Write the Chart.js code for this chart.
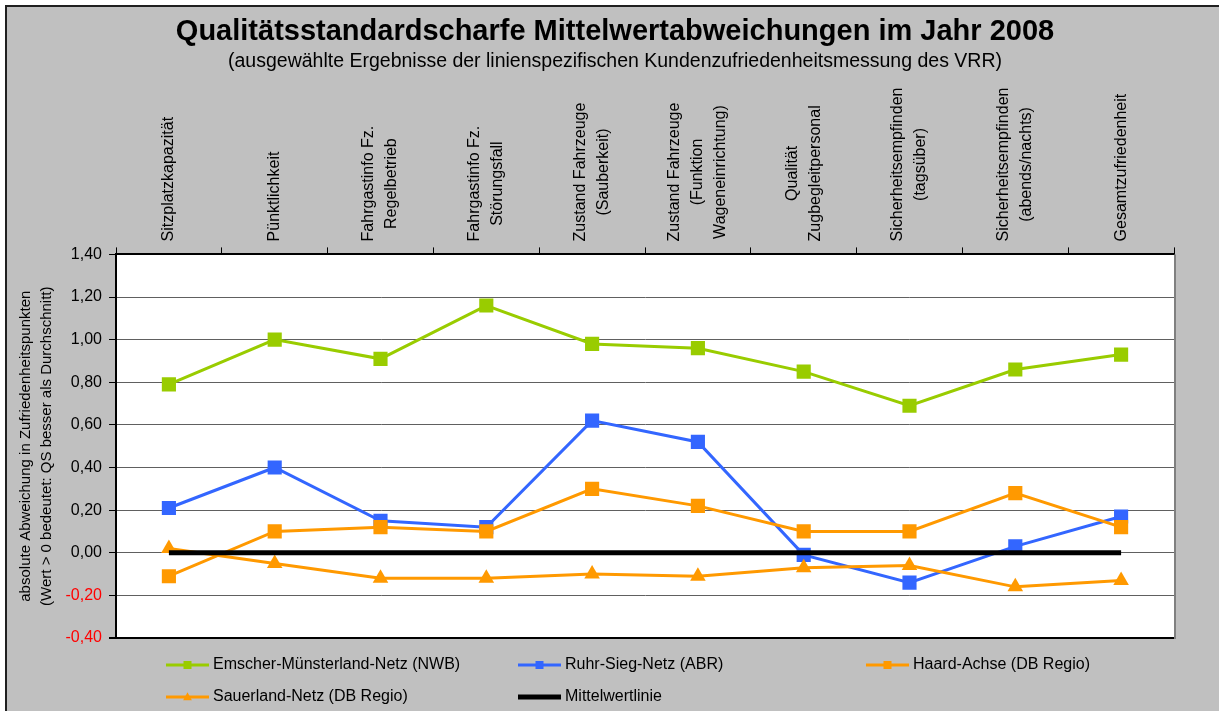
<!DOCTYPE html>
<html lang="de">
<head>
    <meta charset="UTF-8">
    <title>Qualitätsstandardscharfe Mittelwertabweichungen 2008</title>
    <script src="https://cdn.jsdelivr.net/npm/chart.js"></script>
    <style>
        body { margin: 0; background: #fff; }
        .wrap { width: 1219px; height: 711px; position: relative; }
    </style>
</head>
<body>
<div class="wrap"><canvas id="qsChart"></canvas></div>
<script>
// categories (multi-line labels as in the original)
const categories = [
    ['Sitzplatzkapazität'],
    ['Pünktlichkeit'],
    ['Fahrgastinfo Fz.', 'Regelbetrieb'],
    ['Fahrgastinfo Fz.', 'Störungsfall'],
    ['Zustand Fahrzeuge', '(Sauberkeit)'],
    ['Zustand Fahrzeuge', '(Funktion', 'Wageneinrichtung)'],
    ['Qualität', 'Zugbegleitpersonal'],
    ['Sicherheitsempfinden', '(tagsüber)'],
    ['Sicherheitsempfinden', '(abends/nachts)'],
    ['Gesamtzufriedenheit']
];

// series values
const emscherNWB = [0.79, 1.00, 0.91, 1.16, 0.98, 0.96, 0.85, 0.69, 0.86, 0.93];
const ruhrSiegABR = [0.21, 0.40, 0.15, 0.12, 0.62, 0.52, -0.01, -0.14, 0.03, 0.17];
const haardAchse = [-0.11, 0.10, 0.12, 0.10, 0.30, 0.22, 0.10, 0.10, 0.28, 0.12];
const sauerland = [0.02, -0.05, -0.12, -0.12, -0.10, -0.11, -0.07, -0.06, -0.16, -0.13];
const mittelwertlinie = [0, 0, 0, 0, 0, 0, 0, 0, 0, 0];

// y axis ticks
const yMin = -0.4;
const yMax = 1.4;
const yStep = 0.2;

const FONT = "'Liberation Sans', Arial, sans-serif";
Chart.defaults.font.family = FONT;
Chart.defaults.color = '#000';

const GREEN = '#99cc00';
const BLUE = '#3366ff';
const ORANGE = '#ff9900';

const legendItems = [
    { text: 'Emscher-Münsterland-Netz (NWB)', color: GREEN, marker: 'rect', col: 0, row: 0 },
    { text: 'Ruhr-Sieg-Netz (ABR)', color: BLUE, marker: 'rect', col: 1, row: 0 },
    { text: 'Haard-Achse (DB Regio)', color: ORANGE, marker: 'rect', col: 2, row: 0 },
    { text: 'Sauerland-Netz (DB Regio)', color: ORANGE, marker: 'triangle', col: 0, row: 1 },
    { text: 'Mittelwertlinie', color: '#000', marker: null, col: 1, row: 1 }
];

function drawMarker(ctx, type, x, y, s) {
    ctx.beginPath();
    if (type === 'rect') {
        ctx.rect(x - s, y - s, 2 * s, 2 * s);
    } else if (type === 'triangle') {
        ctx.moveTo(x, y - s * 1.2);
        ctx.lineTo(x + s * 1.1, y + s * 0.8);
        ctx.lineTo(x - s * 1.1, y + s * 0.8);
        ctx.closePath();
    }
    ctx.fill();
}

const isZero = v => Math.abs(v) < 1e-9;

const chartDecor = {
    id: 'chartDecor',
    beforeDraw(chart) {
        const { ctx, chartArea: a } = chart;
        ctx.save();
        ctx.fillStyle = '#ffffff';
        ctx.fillRect(0, 0, chart.width, chart.height);
        ctx.fillStyle = '#c0c0c0';
        ctx.fillRect(5, 5, chart.width - 5, chart.height - 5);
        ctx.fillStyle = '#ffffff';
        ctx.fillRect(a.left, a.top, a.right - a.left, a.bottom - a.top);
        ctx.restore();
    },
    afterDraw(chart) {
        const { ctx, chartArea: a } = chart;
        const xs = chart.scales.x;
        ctx.save();

        // frame (top and left edge only, the rest is cut off)
        ctx.strokeStyle = '#202020';
        ctx.lineWidth = 2;
        ctx.beginPath();
        ctx.moveTo(6, chart.height);
        ctx.lineTo(6, 6);
        ctx.lineTo(chart.width, 6);
        ctx.stroke();

        // right edge of plot area
        ctx.strokeStyle = '#808080';
        ctx.lineWidth = 2;
        ctx.beginPath();
        ctx.moveTo(a.right + 1, a.top);
        ctx.lineTo(a.right + 1, a.bottom + 1);
        ctx.stroke();

        // category labels, rotated, above the plot
        ctx.fillStyle = '#000';
        ctx.font = '16px ' + FONT;
        ctx.textAlign = 'center';
        ctx.textBaseline = 'middle';
        const lineH = 23;
        categories.forEach((lines, i) => {
            const x = xs.getPixelForValue(i);
            const maxW = Math.max(...lines.map(l => ctx.measureText(l).width));
            ctx.save();
            ctx.translate(x, a.top - 13);
            ctx.rotate(-Math.PI / 2);
            lines.forEach((l, j) => {
                ctx.fillText(l, maxW / 2, (j - (lines.length - 1) / 2) * lineH);
            });
            ctx.restore();
        });

        // legend
        const colX = [166, 518, 866];
        const rowY = [665, 697];
        ctx.font = '16px ' + FONT;
        ctx.textAlign = 'left';
        legendItems.forEach(it => {
            const x = colX[it.col];
            const y = rowY[it.row];
            ctx.strokeStyle = it.color;
            ctx.fillStyle = it.color;
            ctx.lineWidth = it.marker ? 3 : 5;
            ctx.beginPath();
            ctx.moveTo(x, y);
            ctx.lineTo(x + 43, y);
            ctx.stroke();
            if (it.marker) drawMarker(ctx, it.marker, x + 21.5, y, 4);
            ctx.fillStyle = '#000';
            ctx.fillText(it.text, x + 47, y);
        });
        ctx.restore();
    }
};

function series(label, data, color, style, radius, order) {
    return {
        label: label,
        data: data,
        borderColor: color,
        backgroundColor: color,
        borderWidth: 3,
        pointStyle: style,
        pointRadius: radius,
        pointHoverRadius: radius,
        pointBorderWidth: 0,
        tension: 0,
        order: order
    };
}

const ctx = document.getElementById('qsChart').getContext('2d');
const qsChart = new Chart(ctx, {
    type: 'line',
    data: {
        labels: categories,
        datasets: [
            series('Emscher-Münsterland-Netz (NWB)', emscherNWB, GREEN, 'rect', 10, 4),
            series('Ruhr-Sieg-Netz (ABR)', ruhrSiegABR, BLUE, 'rect', 10, 3),
            series('Haard-Achse (DB Regio)', haardAchse, ORANGE, 'rect', 10, 2),
            series('Sauerland-Netz (DB Regio)', sauerland, ORANGE, 'triangle', 9, 1),
            {
                label: 'Mittelwertlinie',
                data: mittelwertlinie,
                borderColor: '#000',
                backgroundColor: '#000',
                borderWidth: 5,
                pointRadius: 0,
                order: 0
            }
        ]
    },
    options: {
        responsive: true,
        maintainAspectRatio: false,
        animation: false,
        layout: { padding: { left: 11, right: 0, top: 0, bottom: 73 } },
        plugins: {
            legend: { display: false },
            tooltip: { enabled: false },
            title: {
                display: true,
                text: 'Qualitätsstandardscharfe Mittelwertabweichungen im Jahr 2008',
                color: '#000',
                font: { size: 29, weight: 'bold' },
                padding: { top: 15, bottom: 0 }
            },
            subtitle: {
                display: true,
                text: '(ausgewählte Ergebnisse der linienspezifischen Kundenzufriedenheitsmessung des VRR)',
                color: '#000',
                font: { size: 19.5 },
                padding: { top: 0, bottom: 0 }
            }
        },
        scales: {
            x: {
                position: 'top',
                offset: true,
                ticks: { display: false },
                grid: {
                    offset: true,
                    drawOnChartArea: false,
                    tickLength: 7,
                    tickColor: '#000'
                },
                border: { color: '#000', width: 2 },
                afterFit(scale) { scale.height = 181.2; }
            },
            y: {
                min: yMin,
                max: yMax,
                ticks: {
                    stepSize: yStep,
                    padding: 7,
                    font: { size: 16 },
                    color: c => (c.tick && c.tick.value < -1e-9 ? '#ff0000' : '#000'),
                    callback: v => (isZero(v) ? 0 : v).toFixed(2).replace('.', ',')
                },
                grid: {
                    color: c => (c.tick && Math.abs(c.tick.value - yMin) < 1e-6 ? '#000' : '#606060'),
                    lineWidth: c => (c.tick && Math.abs(c.tick.value - yMin) < 1e-6 ? 2 : 1),
                    tickLength: 7,
                    tickColor: '#000'
                },
                border: { color: '#000', width: 2 },
                title: {
                    display: true,
                    text: ['absolute Abweichung in Zufriedenheitspunkten',
                           '(Wert > 0 bedeutet: QS besser als Durchschnitt)'],
                    color: '#000',
                    font: { size: 15, lineHeight: 1.4 },
                    padding: { top: 4, bottom: 0 }
                },
                afterFit(scale) { scale.width = 105; }
            },
            // empty right-hand axis, only reserves the margin right of the plot
            yRight: {
                position: 'right',
                min: yMin,
                max: yMax,
                ticks: { display: false },
                grid: { display: false },
                border: { display: false },
                afterFit(scale) { scale.width = 45; }
            }
        }
    },
    plugins: [chartDecor]
});
</script>
</body>
</html>
